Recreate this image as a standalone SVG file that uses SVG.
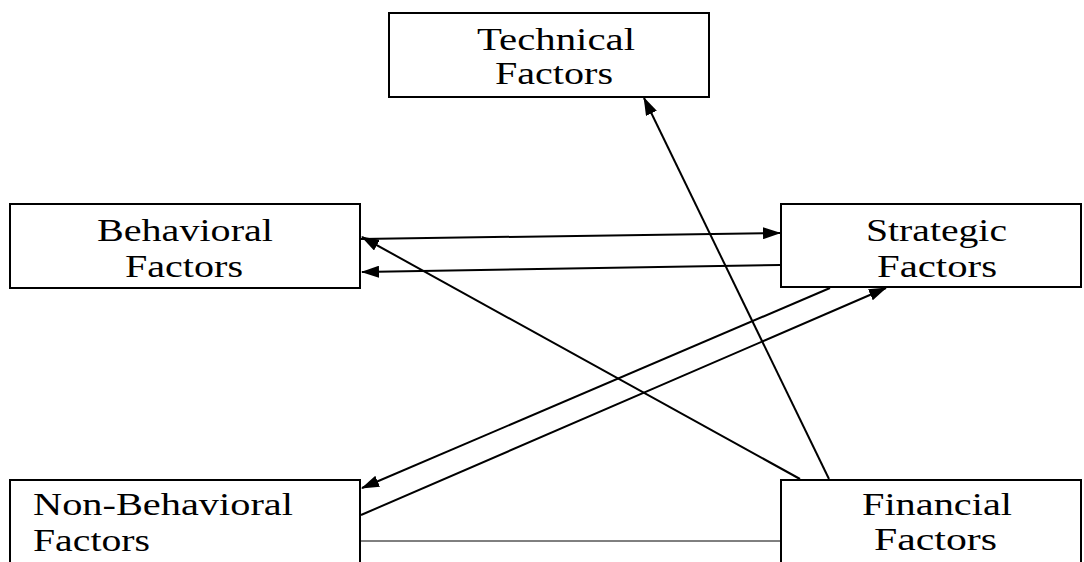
<svg xmlns="http://www.w3.org/2000/svg" width="1084" height="562" viewBox="0 0 1084 562">
<defs>
<style>
.box{fill:#fff;stroke:#000;stroke-width:2}
.t{font-size:31px;fill:#000}
.c{stroke:#000;stroke-width:2;fill:none}
.thin{stroke:#000;stroke-width:1;fill:none}
</style>
<marker id="ah" markerWidth="18" markerHeight="12" refX="17" refY="6" orient="auto" markerUnits="userSpaceOnUse" viewBox="0 0 18 12">
<path d="M0,0 L18,6 L0,12 Z" fill="#000"/>
</marker>
</defs>
<rect width="1084" height="562" fill="#fff"/>
<g font-family="Liberation Serif, Times New Roman, serif">
<g id="technical">
<rect class="box" x="389" y="13" width="320" height="84"/>
<text class="t" x="477" y="50" textLength="158" lengthAdjust="spacingAndGlyphs">Technical</text>
<text class="t" x="495" y="84" textLength="118" lengthAdjust="spacingAndGlyphs">Factors</text>
</g>
<g id="behavioral">
<rect class="box" x="10" y="204" width="350" height="84"/>
<text class="t" x="97" y="241" textLength="176" lengthAdjust="spacingAndGlyphs">Behavioral</text>
<text class="t" x="125" y="277" textLength="118" lengthAdjust="spacingAndGlyphs">Factors</text>
</g>
<g id="strategic">
<rect class="box" x="781" y="204" width="300" height="83"/>
<text class="t" x="866" y="241" textLength="141" lengthAdjust="spacingAndGlyphs">Strategic</text>
<text class="t" x="877" y="277" textLength="120" lengthAdjust="spacingAndGlyphs">Factors</text>
</g>
<g id="nonbehavioral">
<rect class="box" x="10" y="480" width="350" height="100"/>
<text class="t" x="33" y="515" textLength="260" lengthAdjust="spacingAndGlyphs">Non-Behavioral</text>
<text class="t" x="33" y="551" textLength="117" lengthAdjust="spacingAndGlyphs">Factors</text>
</g>
<g id="financial">
<rect class="box" x="781" y="480" width="300" height="100"/>
<text class="t" x="862" y="515" textLength="150" lengthAdjust="spacingAndGlyphs">Financial</text>
<text class="t" x="874" y="550" textLength="123" lengthAdjust="spacingAndGlyphs">Factors</text>
</g>
</g>
<g id="connectors">
<line class="c" x1="361" y1="239" x2="780" y2="233" marker-end="url(#ah)"/>
<line class="c" x1="780" y1="265" x2="362" y2="272" marker-end="url(#ah)"/>
<line class="c" x1="800" y1="479" x2="362" y2="237" marker-end="url(#ah)"/>
<line class="c" x1="829" y1="479" x2="644" y2="98" marker-end="url(#ah)"/>
<line class="c" x1="830" y1="288" x2="362" y2="488" marker-end="url(#ah)"/>
<line class="c" x1="361" y1="515" x2="886" y2="288" marker-end="url(#ah)"/>
<line class="thin" x1="361" y1="541" x2="780" y2="541"/>
</g>
</svg>
